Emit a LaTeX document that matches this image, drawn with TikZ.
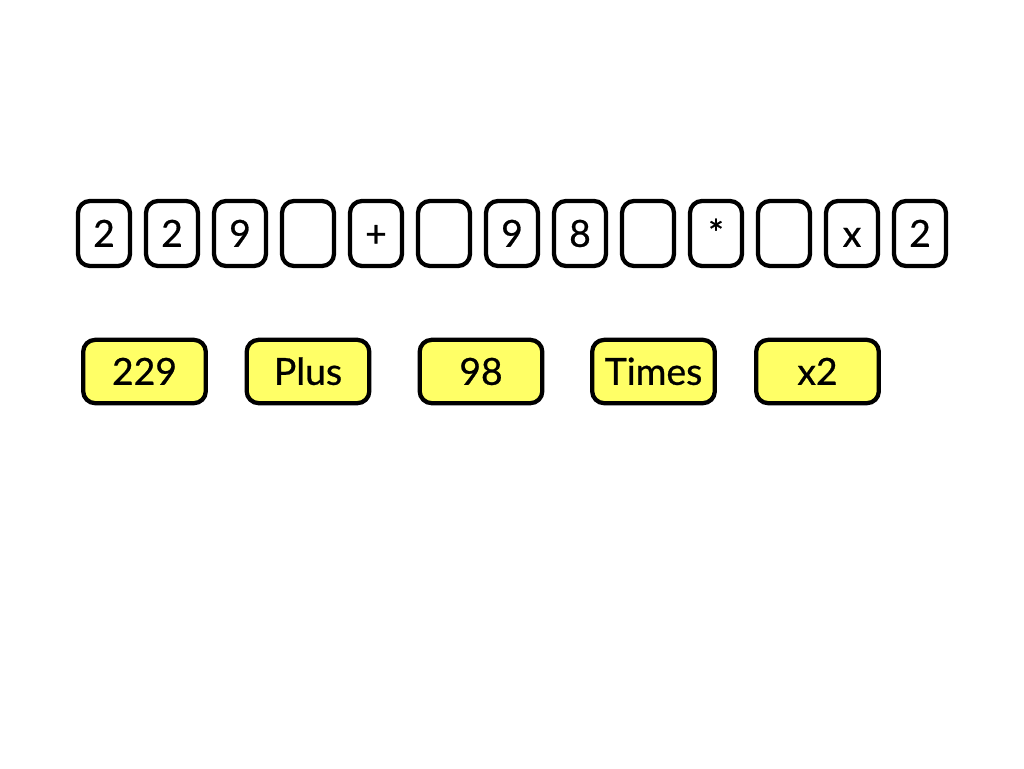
\documentclass[tikz,border=0pt]{standalone}
\usepackage{fontspec}
\setmainfont{Lato}[FakeBold=0.7]
\definecolor{boxyellow}{RGB}{255,255,102}
\begin{document}
\begin{tikzpicture}[x=0.75pt,y=-0.75pt,
  charbox/.style={draw=black,line width=3.2pt,rounded corners=9pt,fill=white,
    minimum width=39pt,minimum height=48.75pt,inner sep=0pt,outer sep=0pt,
    text height=20pt,text depth=0pt,
    font=\fontsize{28}{30}\selectfont},
  tokbox/.style={draw=black,line width=3.2pt,rounded corners=9pt,fill=boxyellow,
    minimum width=92pt,minimum height=47.5pt,inner sep=0pt,outer sep=0pt,
    text height=20pt,text depth=0pt,
    font=\fontsize{28}{30}\selectfont}]
\useasboundingbox (0,0) rectangle (1024,768);
\foreach \t [count=\i] in {2,2,9,{},+,{},9,8,{},*,{},x,2}{
  \node[charbox] (c\i) at ({104+68*(\i-1)},233.5) {\t};
}
\node[tokbox] (t1) at (144.5,371.5) {229};
\node[tokbox] (t2) at (308,371.5) {Plus};
\node[tokbox] (t3) at (481,371.5) {98};
\node[tokbox] (t4) at (653.5,371.5) {Times};
\node[tokbox] (t5) at (817.5,371.5) {x2};
\end{tikzpicture}
\end{document}
